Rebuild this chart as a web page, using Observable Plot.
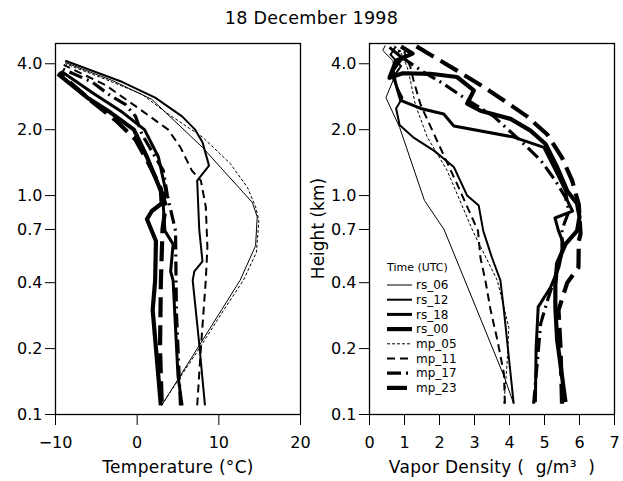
<!DOCTYPE html>
<html><head><meta charset="utf-8">
<script src="https://cdn.jsdelivr.net/npm/d3@7"></script>
<script src="https://cdn.jsdelivr.net/npm/@observablehq/plot@0.6"></script>
<style>
body{margin:0;background:#fff;}
#fig{position:relative;width:623px;height:481px;font-family:"DejaVu Sans",sans-serif;color:#000;background:#fff;overflow:hidden;}
#fig > svg{position:absolute;top:0;}
.lbl{position:absolute;white-space:pre;line-height:1;color:#000;}
</style></head><body>
<div id="fig"></div>
<script>
// ---------- data: [height (km), value] ----------
const seriesNames = ["rs_06","rs_12","rs_18","rs_00","mp_05","mp_11","mp_17","mp_23"];
const heightTicks = [0.1, 0.2, 0.4, 0.7, 1.0, 2.0, 4.0];
const tempTicks = [-10, 0, 10, 20];
const vaporTicks = [0, 1, 2, 3, 4, 5, 6, 7];

// Temperature (°C)
const tempRs06 = [[0.11,3.0],[0.41,12.6],[0.59,14.5],[0.8,14.7],[0.93,14.1],[1.66,8.0],[2.75,1.8],[3.35,-3.0],[4.05,-8.8]];
const tempRs12 = [[0.11,8.3],[0.21,7.6],[0.41,6.8],[0.45,7.0],[0.5,8.0],[0.7,7.6],[1.17,7.35],[1.37,8.8],[1.75,8.0],[2.0,7.1],[2.3,5.5],[2.8,2.2],[3.3,-1.8],[4.13,-8.8]];
const tempRs18 = [[0.11,5.5],[0.15,5.0],[0.41,4.4],[0.45,4.1],[0.6,4.4],[0.69,3.4],[0.9,3.2],[1.05,3.5],[1.5,2.6],[2.0,0.9],[2.4,-1.8],[2.9,-5.2],[3.7,-9.3]];
const tempRs00 = [[0.11,2.9],[0.3,1.9],[0.41,2.2],[0.62,2.3],[0.78,1.2],[0.85,1.8],[0.92,3.0],[1.05,2.9],[1.5,1.2],[2.0,-0.4],[2.4,-3.3],[2.8,-6.1],[3.6,-9.7]];
const tempMp05 = [[0.115,3.3],[0.2,7.6],[0.3,10.6],[0.41,13.0],[0.55,14.6],[0.77,14.9],[0.89,14.5],[1.09,13.5],[1.4,11.4],[1.85,8.0],[2.4,3.5],[2.9,0.6],[3.4,-3.9],[4.0,-8.8]];
const tempMp11 = [[0.11,7.35],[0.2,7.8],[0.41,8.4],[0.58,8.6],[0.89,8.4],[1.17,7.8],[1.3,6.7],[1.66,5.3],[2.0,3.8],[2.5,0.2],[3.2,-3.9],[3.95,-9.0]];
const tempMp17 = [[0.11,5.3],[0.3,4.8],[0.69,4.7],[1.0,3.7],[1.3,3.2],[1.9,0.6],[2.3,-0.2],[2.6,-1.4],[2.9,-3.5],[3.3,-5.5],[3.8,-9.2]];
const tempMp23 = [[0.115,3.0],[0.2,2.8],[0.4,2.9],[0.7,3.1],[0.9,3.5],[1.1,2.8],[1.4,1.4],[1.8,-0.2],[2.2,-2.6],[2.7,-5.6],[3.65,-9.6]];

// Vapor density (g/m3)
const vapRs06 = [[0.112,4.12],[0.15,3.84],[0.7,2.13],[0.95,1.57],[2.05,0.86],[2.8,0.47],[3.5,0.72],[4.13,0.67],[4.6,0.38],[4.85,0.45]];
const vapRs12 = [[0.112,4.12],[0.3,3.84],[0.41,3.74],[0.52,3.5],[0.69,3.25],[0.9,3.12],[1.0,2.79],[1.35,2.41],[1.6,1.85],[1.85,1.24],[2.1,0.86],[2.5,0.76],[2.8,0.94],[3.1,0.8],[3.45,0.66],[3.9,0.9],[4.4,0.6],[4.8,0.75]];
const vapRs18 = [[0.114,4.74],[0.2,4.76],[0.31,4.82],[0.38,5.17],[0.47,5.41],[0.6,5.55],[0.69,5.4],[0.79,5.3],[0.85,5.8],[0.95,5.65],[1.05,5.6],[1.26,5.36],[1.66,4.98],[1.85,4.12],[2.08,2.41],[2.36,2.12],[2.5,1.46],[2.72,0.89],[3.2,0.76],[3.72,0.67],[4.25,0.94],[4.75,0.57]];
const vapRs00 = [[0.114,5.6],[0.22,5.36],[0.31,5.31],[0.39,5.31],[0.49,5.36],[0.6,5.6],[0.69,5.93],[0.8,6.0],[0.92,5.93],[1.05,5.65],[1.35,5.36],[1.72,5.03],[1.98,4.6],[2.24,4.03],[2.44,3.17],[2.63,2.79],[3.02,2.98],[3.48,2.5],[3.6,1.74],[3.62,0.95],[3.45,0.57],[4.13,0.76],[4.45,1.23],[4.8,0.9]];
const vapMp05 = [[0.112,3.84],[0.17,3.93],[0.25,3.98],[0.41,3.65],[0.69,2.95],[1.3,2.22],[1.85,1.65],[2.6,1.31],[3.35,1.17],[3.85,1.08],[4.5,0.9],[4.85,0.7]];
const vapMp11 = [[0.112,3.87],[0.154,3.84],[0.22,3.65],[0.3,3.46],[0.41,3.31],[0.52,3.17],[0.69,3.1],[1.13,2.5],[1.78,1.93],[2.6,1.46],[3.35,1.26],[3.85,1.17],[4.5,1.0],[4.85,1.1]];
const vapMp17 = [[0.112,4.69],[0.26,4.89],[0.33,5.08],[0.41,5.27],[0.55,5.5],[0.7,5.5],[0.85,5.7],[0.98,5.6],[1.17,5.31],[1.45,4.89],[1.72,4.41],[2.3,3.55],[2.8,2.7],[3.25,2.1],[3.7,1.5],[4.2,1.0],[4.7,0.8]];
const vapMp23 = [[0.112,5.5],[0.2,5.46],[0.3,5.4],[0.4,5.65],[0.47,5.97],[0.62,5.98],[0.67,6.03],[0.91,5.98],[1.17,5.79],[1.49,5.5],[1.9,5.08],[2.3,4.5],[2.72,3.84],[3.2,3.17],[3.72,2.5],[4.4,1.74],[4.85,1.3]];

// ---------- styles ----------
const lineWidth = {rs_06:1, rs_12:2, rs_18:3, rs_00:4.2, mp_05:1, mp_11:2, mp_17:3.2, mp_23:4.2};
const lineDash = {rs_06:null, rs_12:null, rs_18:null, rs_00:null, mp_05:"3,2", mp_11:"8,5", mp_17:"14,5,2,5", mp_23:"20,8"};

const tempSeries = {rs_06:tempRs06, rs_12:tempRs12, rs_18:tempRs18, rs_00:tempRs00, mp_05:tempMp05, mp_11:tempMp11, mp_17:tempMp17, mp_23:tempMp23};
const vapSeries = {rs_06:vapRs06, rs_12:vapRs12, rs_18:vapRs18, rs_00:vapRs00, mp_05:vapMp05, mp_11:vapMp11, mp_17:vapMp17, mp_23:vapMp23};

function panel(series, xDomain, xTicks, width, marginLeft, marginRight) {
  const marks = [];
  for (const name of seriesNames) {
    const opts = {x: d => d[1], y: d => d[0], stroke: "black", strokeWidth: lineWidth[name],
      strokeLinejoin: "round", strokeLinecap: "butt", clip: true};
    if (lineDash[name]) opts.strokeDasharray = lineDash[name];
    marks.push(Plot.line(series[name], opts));
  }
  marks.push(Plot.frame({stroke: "black", strokeWidth: 1.3}));
  marks.push(Plot.axisY({ticks: heightTicks, tickFormat: d3.format(".1f"), tickSize: 10, tickPadding: 3, label: null}));
  marks.push(Plot.axisX({ticks: xTicks, tickFormat: d3.format("d"), tickSize: 11, tickPadding: 11, label: null}));
  return Plot.plot({
    width, height: 481, marginTop: 43, marginBottom: 67, marginLeft, marginRight,
    x: {domain: xDomain}, y: {type: "log", domain: [0.1, 4.95]},
    style: {fontFamily: "DejaVu Sans", fontSize: "16px", color: "black", background: "transparent", overflow: "visible"},
    marks
  });
}

const fig = document.getElementById("fig");
const left = panel(tempSeries, [-10, 20], tempTicks, 311, 55, 11);
left.style.left = "0px";
fig.appendChild(left);
const right = panel(vapSeries, [0, 7], vaporTicks, 312, 58, 9);
right.style.left = "311px";
fig.appendChild(right);

function label(text, css) {
  const d = document.createElement("div");
  d.className = "lbl";
  d.textContent = text;
  Object.assign(d.style, css);
  fig.appendChild(d);
  return d;
}
label("18 December 1998", {left: "0px", width: "623px", textAlign: "center", top: "10px", fontSize: "17.5px", letterSpacing: "0.3px"});
label("Temperature (°C)", {left: "78px", width: "200px", textAlign: "center", top: "459px", fontSize: "17px", letterSpacing: "0.3px"});
label("Vapor Density (\u00a0\u00a0g/m\u00b3\u00a0\u00a0)", {left: "372px", width: "240px", textAlign: "center", top: "459px", fontSize: "17px", letterSpacing: "0.3px"});
label("Height (km)", {left: "258px", width: "120px", textAlign: "center", top: "220px", fontSize: "17px", transform: "rotate(-90deg)", transformOrigin: "50% 50%"});

// legend
const leg = d3.select(fig).append("svg")
  .attr("width", 110).attr("height", 145)
  .style("left", "380px").style("top", "255px")
  .style("font-family", "DejaVu Sans").style("font-size", "12px");
leg.append("text").attr("x", 7).attr("y", 12).attr("dy", "0.35em").style("font-size", "11px").text("Time (UTC)");
seriesNames.forEach((name, i) => {
  const y = 30 + i * 14.7;
  const l = leg.append("line").attr("x1", 7).attr("x2", 32).attr("y1", y).attr("y2", y)
    .attr("stroke", "black").attr("stroke-width", lineWidth[name]);
  if (lineDash[name]) l.attr("stroke-dasharray", lineDash[name]);
  leg.append("text").attr("x", 36).attr("y", y).attr("dy", "0.35em").text(name);
});
</script></body></html>
